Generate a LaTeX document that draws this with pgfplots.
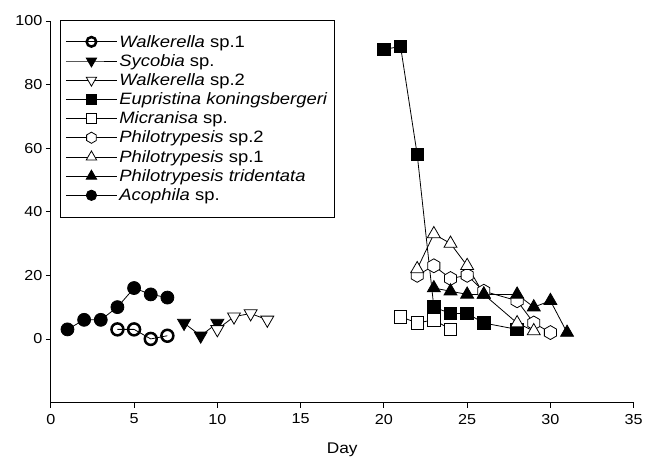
\documentclass[border=0pt]{standalone}
\usepackage{fontspec}
\setmainfont{Liberation Sans}[FakeStretch=1.12]
\usepackage{pgfplots}
\pgfplotsset{compat=1.18}
\pgfdeclareplotmark{hexagon}{%
  \pgfpathmoveto{\pgfpointpolar{90}{\pgfplotmarksize}}%
  \pgfpathlineto{\pgfpointpolar{150}{\pgfplotmarksize}}%
  \pgfpathlineto{\pgfpointpolar{210}{\pgfplotmarksize}}%
  \pgfpathlineto{\pgfpointpolar{270}{\pgfplotmarksize}}%
  \pgfpathlineto{\pgfpointpolar{330}{\pgfplotmarksize}}%
  \pgfpathlineto{\pgfpointpolar{30}{\pgfplotmarksize}}%
  \pgfpathclose
  \pgfusepathqfillstroke
}
\begin{document}
\begin{tikzpicture}
\begin{axis}[
  scale only axis, width=585pt, height=383pt,
  xmin=0, xmax=35, ymin=-20, ymax=100,
  axis x line*=bottom, axis y line*=left,
  axis line style={-, line width=0.8pt},
  every outer x axis line/.append style={-},
  every outer y axis line/.append style={-},
  xtick={0,5,...,35}, ytick={0,20,...,100},
  tick align=outside, major tick length=5pt,
  tick style={black, line width=0.8pt},
  /pgf/number format/assume math mode=true,
  ticklabel style={font=\fontsize{14.5}{16}\selectfont},
  xticklabel style={yshift=-3pt},
  xlabel={Day}, xlabel style={font=\fontsize{15.5}{17}\selectfont, yshift=-12pt},
  clip=false,
  every axis plot/.append style={black, line width=0.8pt},
  legend style={at={(axis description cs:0.016,1.003)}, anchor=north west,
    draw=black, line width=0.8pt, font=\fontsize{16.5}{18}\selectfont,
    row sep=1.8pt, inner xsep=5pt, inner ysep=13pt},
  legend cell align=left,
  legend image code/.code={\draw[mark repeat=2,mark phase=2, every mark/.append style={scale=0.8}] plot coordinates {(0cm,0cm)(0.9cm,0cm)(1.8cm,0cm)};},
]
\addplot[mark=o, mark size=6pt, mark options={fill=white, line width=2.5pt}] coordinates {(4,3)(5,3)(6,0)(7,1)};
\addlegendentry{\textit{Walkerella} sp.1}
\addplot[mark=triangle*, mark size=7.5pt, mark options={rotate=180, fill=black, line width=0.8pt}] coordinates {(8,5)(9,1)(10,5)};
\addlegendentry{\textit{Sycobia} sp.}
\addplot[mark=triangle*, mark size=7.5pt, mark options={rotate=180, fill=white, line width=0.8pt}] coordinates {(10,3)(11,7)(12,8)(13,6)};
\addlegendentry{\textit{Walkerella} sp.2}
\addplot[mark=square*, mark size=6.3pt, mark options={fill=black, line width=0.8pt}] coordinates {(20,91)(21,92)(22,58)(23,10)(24,8)(25,8)(26,5)(28,3)};
\addlegendentry{\textit{Eupristina koningsbergeri}}
\addplot[mark=square*, mark size=6.3pt, mark options={fill=white, line width=0.8pt}] coordinates {(21,7)(22,5)(23,6)(24,3)};
\addlegendentry{\textit{Micranisa} sp.}
\addplot[mark=hexagon, mark size=7pt, mark options={fill=white, line width=0.8pt}] coordinates {(22,20)(23,23)(24,19)(25,20)(26,15)(28,12)(29,5)(30,2)};
\addlegendentry{\textit{Philotrypesis} sp.2}
\addplot[mark=triangle*, mark size=7.5pt, mark options={fill=white, line width=0.8pt}] coordinates {(22,22)(23,33)(24,30)(25,23)(26,14)(28,5)(29,2.5)};
\addlegendentry{\textit{Philotrypesis} sp.1}
\addplot[mark=triangle*, mark size=7.5pt, mark options={fill=black, line width=0.8pt}] coordinates {(23,16)(24,15)(25,14)(26,14)(28,14)(29,10)(30,12)(31,2)};
\addlegendentry{\textit{Philotrypesis tridentata}}
\addplot[mark=*, mark size=6.5pt, mark options={fill=black}] coordinates {(1,3)(2,6)(3,6)(4,10)(5,16)(6,14)(7,13)};
\addlegendentry{\textit{Acophila} sp.}
\end{axis}
\path (-51pt,-57pt) rectangle (595pt,404pt);
\end{tikzpicture}
\end{document}
